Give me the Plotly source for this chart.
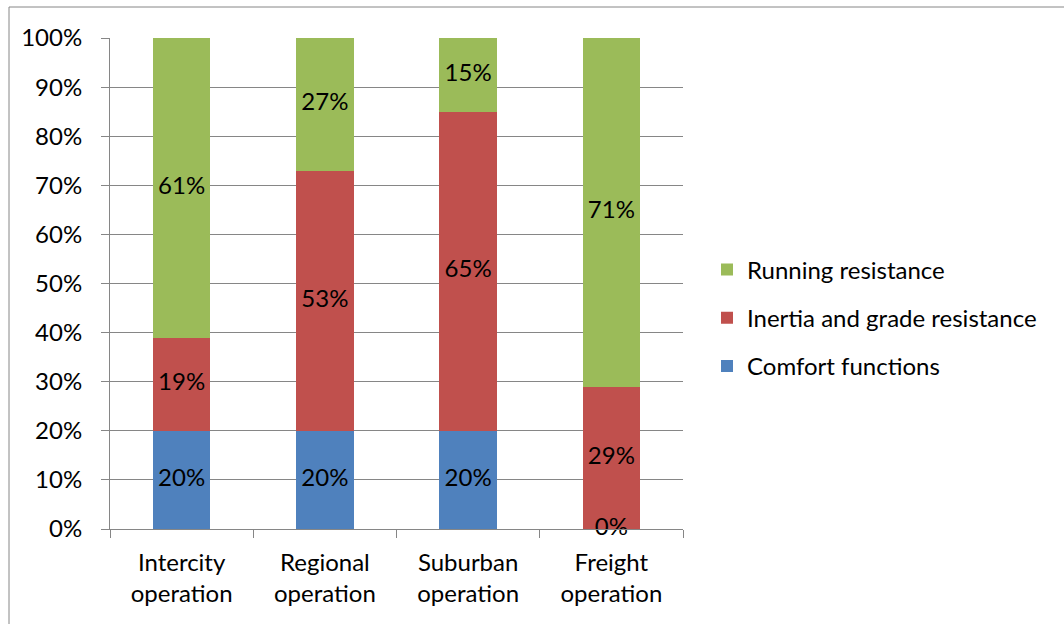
import plotly.graph_objects as go

categories = ["Intercity<br>operation", "Regional<br>operation", "Suburban<br>operation", "Freight<br>operation"]
comfort = [20, 20, 20, 0]
inertia = [19, 53, 65, 29]
running = [61, 27, 15, 71]
tick_vals = [0, 10, 20, 30, 40, 50, 60, 70, 80, 90, 100]
tick_text = [f"{v}%" for v in tick_vals]

series = [
    ("Comfort functions", comfort, "#4F81BD"),
    ("Inertia and grade resistance", inertia, "#C0504D"),
    ("Running resistance", running, "#9BBB59"),
]

FONT = "Lato, Open Sans, sans-serif"
FS = 24
fig = go.Figure()
base = [0] * len(categories)
label_x, label_y, label_t = [], [], []
n = len(series)
for i, (name, vals, color) in enumerate(series):
    fig.add_trace(go.Bar(
        x=categories, y=vals, name=name, marker=dict(color=color, line=dict(width=0)),
        legendgroup=f"g{i}", legendrank=(n - i) * 100, hoverinfo="skip",
    ))
    for j, v in enumerate(vals):
        label_x.append(categories[j])
        label_y.append(base[j] + v / 2)
        label_t.append(f"{v}%")
        base[j] += v

fig.add_trace(go.Scatter(
    x=label_x, y=label_y, text=label_t, mode="text", showlegend=False,
    textfont=dict(family=FONT, size=FS, color="black"), hoverinfo="skip",
    cliponaxis=False,
))

# margins -> plot area x:110..683, y:38..529
L, R, T, B = 110, 381, 38, 95
W, H = 1064, 624
pw, ph = W - L - R, H - T - B
fx0 = (9 - L) / pw
fy1 = 1 + (T - 7) / ph
fx1 = (W + 20 - L) / pw
fy0 = -(B + 20) / ph

fig.update_layout(
    barmode="stack", bargap=0.6,
    width=W, height=H,
    margin=dict(l=L, r=R, t=T, b=B, pad=0),
    paper_bgcolor="white", plot_bgcolor="white",
    font=dict(family=FONT, size=FS, color="black"),
    showlegend=True,
    legend=dict(
        traceorder="grouped", x=1 + 24 / pw, xanchor="left", y=(529 - 318) / ph, yanchor="middle",
        font=dict(family=FONT, size=FS, color="black"), tracegroupgap=14,
        itemwidth=30, bgcolor="rgba(0,0,0,0)",
    ),
    xaxis=dict(
        showgrid=False, showline=True, linecolor="#868686", linewidth=1,
        ticks="outside", ticklen=8, tickcolor="#868686", tickson="boundaries",
        tickfont=dict(family=FONT, size=FS, color="black"), fixedrange=True,
        ticklabelstandoff=12,
    ),
    yaxis=dict(
        range=[0, 100], tickvals=tick_vals, ticktext=tick_text,
        showgrid=True, gridcolor="#868686", gridwidth=1,
        showline=True, linecolor="#868686", linewidth=1,
        ticks="outside", ticklen=8, tickcolor="#868686",
        tickfont=dict(family=FONT, size=FS, color="black"), zeroline=False,
        ticklabelstandoff=14, fixedrange=True,
    ),
    shapes=[dict(type="rect", xref="paper", yref="paper", x0=fx0, x1=fx1, y0=fy0, y1=fy1,
                 line=dict(color="#868686", width=1), fillcolor="rgba(0,0,0,0)", layer="below")],
)

fig.write_html("out.html", config={"displayModeBar": False},
               post_script="document.body.style.margin='0';")
